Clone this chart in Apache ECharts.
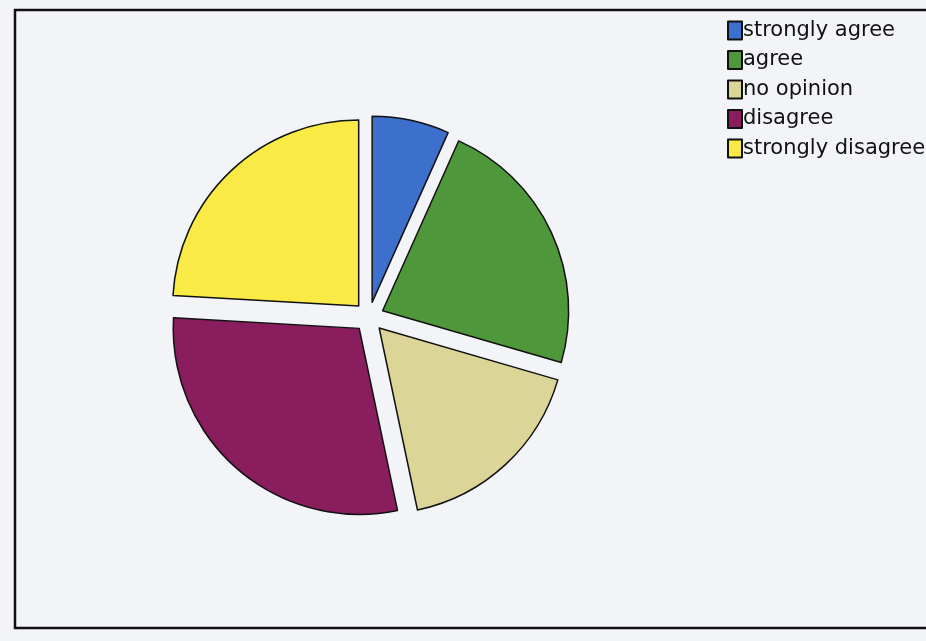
<!DOCTYPE html>
<html>
<head>
<meta charset="utf-8">
<script src="https://cdn.jsdelivr.net/npm/echarts@6/dist/echarts.min.js"></script>
<style>
html,body{margin:0;padding:0;background:#f2f4f7;}
#chart{width:926px;height:641px;}
</style>
</head>
<body>
<div id="chart"></div>
<script>
const categories = ['strongly agree', 'agree', 'no opinion', 'disagree', 'strongly disagree'];
const values = [6.7, 22.8, 17.2, 29.2, 24.1];
const colors = ['#3d6fcc', '#4e983b', '#dcd598', '#8a1d5e', '#f9ea45'];

const chart = echarts.init(document.getElementById('chart'));
chart.setOption({
  backgroundColor: '#f2f4f7',
  animation: false,
  color: colors,
  graphic: [{
    type: 'rect',
    shape: { x: 15, y: 10, width: 930, height: 618 },
    style: { fill: 'none', stroke: '#111', lineWidth: 2.5 },
    z: 0
  }],
  legend: {
    orient: 'vertical',
    left: 722,
    top: 15,
    itemWidth: 14,
    itemHeight: 18,
    itemGap: 8.5,
    icon: 'rect',
    selectedMode: false,
    textStyle: { fontFamily: 'DejaVu Sans', fontSize: 21, color: '#111', padding: [0, 0, 0, -4] },
    data: categories
  },
  series: [{
    type: 'pie',
    center: [369, 317],
    radius: [0, 186],
    startAngle: 90,
    clockwise: true,
    selectedMode: 'multiple',
    selectedOffset: 15,
    label: { show: false },
    labelLine: { show: false },
    emphasis: { disabled: true },
    itemStyle: { borderColor: '#111', borderWidth: 1.5 },
    data: categories.map((c, i) => ({ name: c, value: values[i], selected: true }))
  }]
});
</script>
</body>
</html>
